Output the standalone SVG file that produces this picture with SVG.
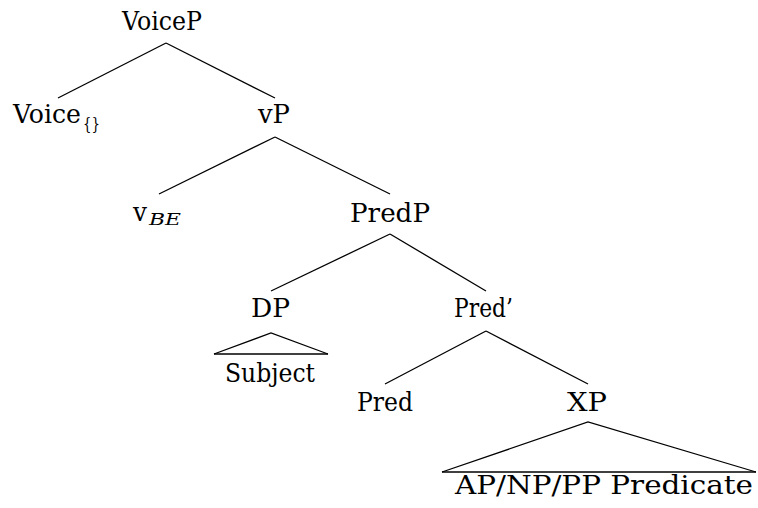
<svg xmlns="http://www.w3.org/2000/svg" width="758" height="508" viewBox="0 0 758 508">
<style>
text{font-family:'DejaVu Serif','Liberation Serif',serif;fill:#000}
.t{font-size:26px}
.s{font-size:17px}
.si{font-size:17px;font-style:italic}
.e{stroke:#000;stroke-width:1.3;fill:none}
</style>
<rect width="758" height="508" fill="#fff"/>
<g id="connectors">
<line class="e" x1="166" y1="43" x2="58" y2="98"/>
<line class="e" x1="166" y1="43" x2="275" y2="98"/>
<line class="e" x1="275" y1="137" x2="159" y2="194"/>
<line class="e" x1="275" y1="137" x2="390" y2="194"/>
<line class="e" x1="390" y1="234" x2="271" y2="291"/>
<line class="e" x1="390" y1="234" x2="486" y2="291"/>
<line class="e" x1="486" y1="331" x2="385" y2="384"/>
<line class="e" x1="486" y1="331" x2="588" y2="384"/>
</g>
<g id="VoiceP"><text class="t" x="122" y="30" textLength="80" lengthAdjust="spacingAndGlyphs">VoiceP</text></g>
<g id="Voice"><text class="t" x="13" y="123" textLength="68" lengthAdjust="spacingAndGlyphs">Voice</text><text class="s" x="83" y="130" textLength="17" lengthAdjust="spacingAndGlyphs">{}</text></g>
<g id="vP"><text class="t" x="258" y="123" textLength="32" lengthAdjust="spacingAndGlyphs">vP</text></g>
<g id="vBE"><text class="t" x="133" y="221" textLength="14" lengthAdjust="spacingAndGlyphs">v</text><text class="si" x="149" y="225" textLength="32" lengthAdjust="spacingAndGlyphs">BE</text></g>
<g id="PredP"><text class="t" x="350" y="222" textLength="80" lengthAdjust="spacingAndGlyphs">PredP</text></g>
<g id="DP"><text class="t" x="251" y="317" textLength="39" lengthAdjust="spacingAndGlyphs">DP</text>
<polyline class="e" points="214,354 271,333 328,354"/><line class="e" x1="214" y1="354" x2="328" y2="354"/>
<text class="t" x="225" y="382" textLength="90" lengthAdjust="spacingAndGlyphs">Subject</text></g>
<g id="PredBar"><text class="t" x="454" y="317" textLength="59" lengthAdjust="spacingAndGlyphs">Pred’</text></g>
<g id="Pred"><text class="t" x="357" y="411" textLength="56" lengthAdjust="spacingAndGlyphs">Pred</text></g>
<g id="XP"><text class="t" x="567" y="411" textLength="40" lengthAdjust="spacingAndGlyphs">XP</text>
<polyline class="e" points="442,472 588,422 756,472"/><line class="e" x1="442" y1="472" x2="756" y2="472"/>
<text class="t" x="455" y="494" textLength="298" lengthAdjust="spacingAndGlyphs">AP/NP/PP Predicate</text></g>
</svg>
